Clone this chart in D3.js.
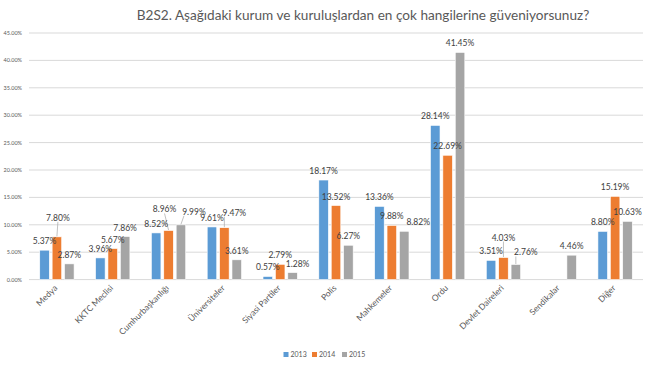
<!DOCTYPE html>
<html>
<head>
<meta charset="utf-8">
<script src="https://cdn.jsdelivr.net/npm/d3@7"></script>
<style>
html,body{margin:0;padding:0;background:#fff;}
svg{display:block;}
text{font-family:Lato,"Open Sans",sans-serif;}
</style>
</head>
<body>
<svg id="chart" width="650" height="366"></svg>
<script>
const title = "B2S2. Aşağıdaki kurum ve kuruluşlardan en çok hangilerine güveniyorsunuz?";
const categories = ["Medya","KKTC Meclisi","Cumhurbaşkanlığı","Üniversiteler","Siyasi Partiler","Polis","Mahkemeler","Ordu","Devlet Daireleri","Sendikalar","Diğer"];
const seriesNames = ["2013","2014","2015"];
const values2013 = [5.37,3.96,8.52,9.61,0.57,18.17,13.36,28.14,3.51,null,8.80];
const values2014 = [7.80,5.67,8.96,9.47,2.79,13.52,9.88,22.69,4.03,null,15.19];
const values2015 = [2.87,7.86,9.99,3.61,1.28,6.27,8.82,41.45,2.76,4.46,10.63];
const yTicks = [0,5,10,15,20,25,30,35,40,45];
const colors = ["#5b9bd5","#ed7d31","#a5a5a5"];
// label nudges (dx, dy) for labels Excel moved off the bar, keyed "series|category"
const labelNudge = {
  "1|0":[1,-10], "1|2":[-4,-12], "2|2":[13,-4], "1|3":[10,-6],
  "2|4":[5,0], "2|6":[14,0], "1|8":[0,-11], "2|8":[10,-3]
};
const leaderLines = ["1|0","1|2","2|2","1|3","1|8","2|8"];

const allValues = [values2013, values2014, values2015];
const svg = d3.select("#chart");
const plotL = 29, plotR = 643, plotT = 33, plotB = 279.6;

const x0 = d3.scaleBand().domain(categories).range([plotL,plotR]).paddingInner(0.385).paddingOuter(0.1925);
const x1 = d3.scaleBand().domain(seriesNames).range([0,x0.bandwidth()]).paddingInner(0.23).paddingOuter(0);
const y = d3.scaleLinear().domain([0,45]).range([plotB,plotT]);

// title
svg.append("text").attr("x",363).attr("y",20).attr("text-anchor","middle")
  .attr("font-size",13.6).attr("fill","#595959").text(title);

// gridlines
svg.append("g").selectAll("line").data(yTicks).join("line")
  .attr("x1",plotL).attr("x2",plotR).attr("y1",d=>y(d)).attr("y2",d=>y(d))
  .attr("stroke","#d9d9d9").attr("stroke-width",1);

// y tick labels
svg.append("g").selectAll("text").data(yTicks).join("text")
  .attr("x",22).attr("y",d=>y(d)+2).attr("text-anchor","end")
  .attr("font-size",5.5).attr("fill","#595959").text(d=>d.toFixed(2)+"%");

// bars
const flat = [];
allValues.forEach((arr,s)=>arr.forEach((v,c)=>{ if(v!==null) flat.push({s,c,v}); }));
const bx = d => x0(categories[d.c]) + x1(seriesNames[d.s]);
svg.append("g").selectAll("rect").data(flat).join("rect")
  .attr("x",bx).attr("width",x1.bandwidth())
  .attr("y",d=>y(d.v)).attr("height",d=>y(0)-y(d.v))
  .attr("fill",d=>colors[d.s]).attr("stroke","#ffffff").attr("stroke-width",0.6);

// labels
const lab = d => {
  const n = labelNudge[d.s+"|"+d.c] || [0,0];
  return {x: bx(d) + x1.bandwidth()/2 + n[0], y: y(d.v) - 9 + n[1]};
};
svg.append("g").selectAll("line").data(flat.filter(d=>leaderLines.includes(d.s+"|"+d.c))).join("line")
  .attr("x1",d=>{const p=lab(d); const bxc=bx(d)+x1.bandwidth()/2; return p.x + (bxc>p.x+4? 8 : (bxc<p.x-4? -10 : 0));})
  .attr("y1",d=>lab(d).y+4)
  .attr("x2",d=>bx(d)+x1.bandwidth()/2).attr("y2",d=>y(d.v)-0.5)
  .attr("stroke","#a6a6a6").attr("stroke-width",0.7);
svg.append("g").selectAll("text").data(flat).join("text")
  .attr("x",d=>lab(d).x).attr("y",d=>lab(d).y+3).attr("text-anchor","middle")
  .attr("font-size",8.5).attr("fill","#404040").text(d=>d.v.toFixed(2)+"%");

// x labels
svg.append("g").selectAll("text").data(categories).join("text")
  .attr("transform",d=>`translate(${x0(d)+x0.bandwidth()/2+1},${plotB+9}) rotate(-45)`)
  .attr("text-anchor","end").attr("font-size",8.5).attr("fill","#595959").text(d=>d);

// legend
const lg = svg.append("g");
const legX = [283.5,312,342];
seriesNames.forEach((n,i)=>{
  lg.append("rect").attr("x",legX[i]).attr("y",352).attr("width",5).attr("height",5).attr("fill",colors[i]);
  lg.append("text").attr("x",legX[i]+7).attr("y",357).attr("font-size",7).attr("fill","#595959").text(n);
});
</script>
</body>
</html>
